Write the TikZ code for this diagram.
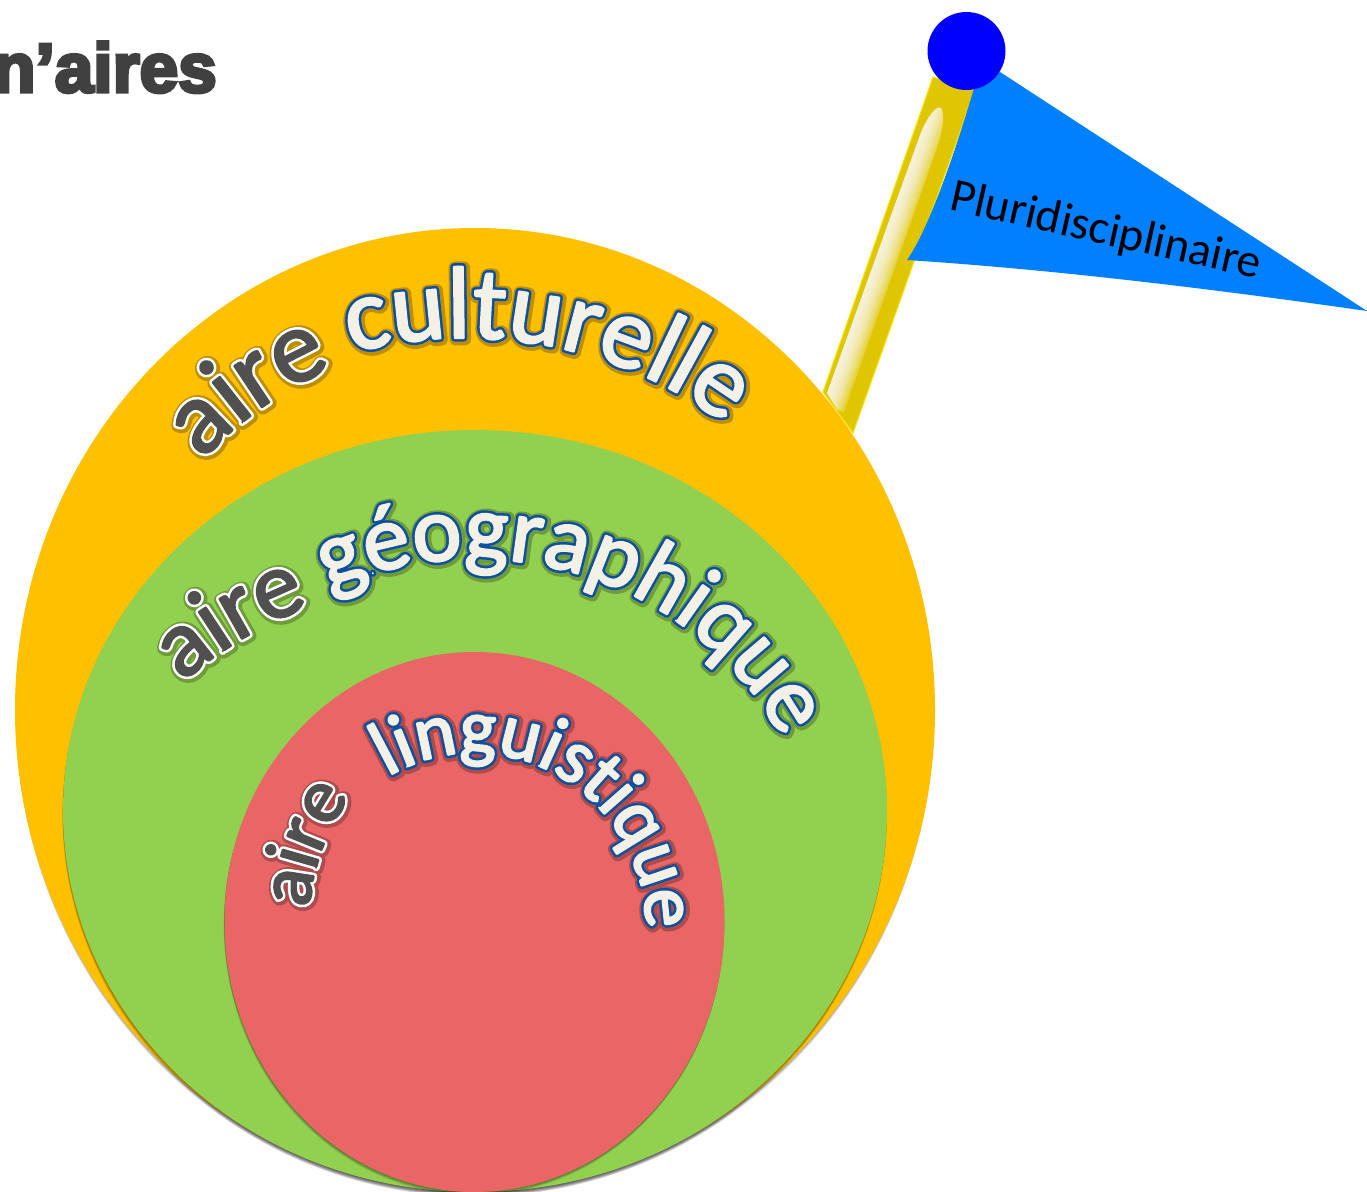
\documentclass[tikz,border=0pt]{standalone}
\usepackage{fontspec}
\setmainfont{Carlito}
\newfontfamily\titlefont{Liberation Sans}[BoldFeatures={FakeBold=5}]
\usetikzlibrary{decorations.text}
\definecolor{orangeC}{HTML}{FFC000}
\definecolor{greenC}{HTML}{92D050}
\definecolor{redC}{HTML}{E96566}
\definecolor{poleC}{HTML}{E0C600}
\definecolor{poleEdge}{HTML}{F5E400}
\definecolor{creamC}{HTML}{F6F2DC}
\definecolor{flagC}{HTML}{0080FF}
\definecolor{ballC}{HTML}{0000FF}
\definecolor{titleC}{HTML}{404040}
\tikzset{
  shadowring/.style={fill=black,fill opacity=.09},
}
% one layer of a curved word: the glyphs are filled and stroked in one colour
\newcommand{\wfmt}{\fontsize{\wsize}{\wsize}\selectfont\special{pdf:code \wrgb\space rg \wrgb\space RG \wwid\space w 1 j 1 J 2 Tr}}
\newcommand{\wlayer}[8]{%
  % #1 rgb #2 stroke width #3 cx #4 cy #5 rx #6 ry #7 a1 #8 a2
  \def\wrgb{#1}\def\wwid{#2}%
  \path[decorate,decoration={text along path,text align=center,text={|\wfmt|\wtext}}]
      ({#3+#5*cos(#7)},{#4+#6*sin(#7)}) arc[start angle=#7,end angle=#8,x radius=#5,y radius=#6];
  }
\newcommand{\arcword}[5]{% text size fill halo glow
  \def\wtext{#1}\def\wsize{#2}\def\wfill{#3}\def\whalo{#4}\def\wglow{#5}}
\newcommand{\place}[6]{%
  \begin{scope}[shift={(1,1)}]\wlayer{\wglow}{9.5}{#1}{#2}{#3}{#4}{#5}{#6}\end{scope}
  \wlayer{\whalo}{5.4}{#1}{#2}{#3}{#4}{#5}{#6}
  \wlayer{\wfill}{1.6}{#1}{#2}{#3}{#4}{#5}{#6}}
\def\cFill{.953 .941 .902}
\def\cBlue{.051 .31 .627}
\def\cGrey{.314 .314 .314}
\def\cWhite{1 1 1}
\begin{document}
\begin{tikzpicture}[x=.75pt,y=-.75pt]
\useasboundingbox (0,0) rectangle (1367,1192);
\clip (0,0) rectangle (1367,1192);
% title
\node[anchor=base east,inner sep=0pt,text=titleC,font=\titlefont\bfseries\fontsize{52}{52}\selectfont] (title) at (217,92) {n’aires};
% pole
\draw[fill=poleC,draw=poleEdge,line width=.8pt] (933,77) -- (975,90) -- (853,433) -- (823,392) -- cycle;
\begin{scope}
  \clip (827,393) -- (920,135) .. controls (928,115) and (937,105) .. (941,108) .. controls (945,112) and (943,130) .. (938,145) -- (842,418) -- cycle;
  \foreach \i in {0,...,15}{
    \pgfmathsetmacro\pp{100-\i*\i*.4}
    \draw[line width=1.4pt,color=creamC!\pp!poleC] ({936+\i*1.5},{90+\i*.5}) -- ({823+\i*1.5},{405+\i*.5});
  }
\end{scope}
% flag
\fill[flagC] (1000,72) -- (1367,311) .. controls (1220,290) and (1060,270) .. (907,260) .. controls (925,235) and (950,170) .. (975,85) -- cycle;
\node[inner sep=0pt,rotate=-12.6,font=\fontsize{35.5}{35.5}\selectfont,text=black] (label) at (1106,232) {Pluridisciplinaire};
% ball
\fill[ballC] (966.5,51) circle[radius=39];
% orange
\foreach \i in {1,...,5}{\fill[shadowring] (475,{710+\i*.9}) ellipse[x radius=459,y radius=482];}
\fill[orangeC] (475,710) ellipse[x radius=460,y radius=482];
% green
\begin{scope}
\clip (475,710) ellipse[x radius=470,y radius=490];
\foreach \i in {1,...,5}{\fill[shadowring] ({475-\i*.1},{811+\i*.9}) ellipse[x radius=412,y radius=381];}
\end{scope}
\fill[greenC] (475,811) ellipse[x radius=412,y radius=381];
% red
\foreach \i in {1,...,5}{\fill[shadowring] ({474.5-\i*.15},{922+\i*.7}) ellipse[x radius=250,y radius=270];}
\fill[redC] (474.5,922) ellipse[x radius=250,y radius=270];
% words
\def\gO{.74 .56 0}
\def\gG{.43 .61 .235}
\def\gR{.68 .3 .3}
\arcword{aire}{78}{\cGrey}{\cWhite}{\gO}
\place{475}{714}{370}{375}{207}{263}
\arcword{culturelle}{77}{\cFill}{\cBlue}{\gO}
\place{465}{698}{400}{360}{232.5}{332.5}
\arcword{aire}{72}{\cGrey}{\cWhite}{\gG}
\place{477}{906}{400}{330}{205}{261}
\arcword{géographique}{70}{\cFill}{\cBlue}{\gG}
\place{475}{889}{345}{330}{239}{339}
\arcword{aire}{58}{\cGrey}{\cWhite}{\gR}
\place{474}{923}{165}{190}{161}{247}
\arcword{linguistique}{58}{\cFill}{\cBlue}{\gR}
\place{474}{928}{172}{175}{225}{375}
\end{tikzpicture}
\end{document}
